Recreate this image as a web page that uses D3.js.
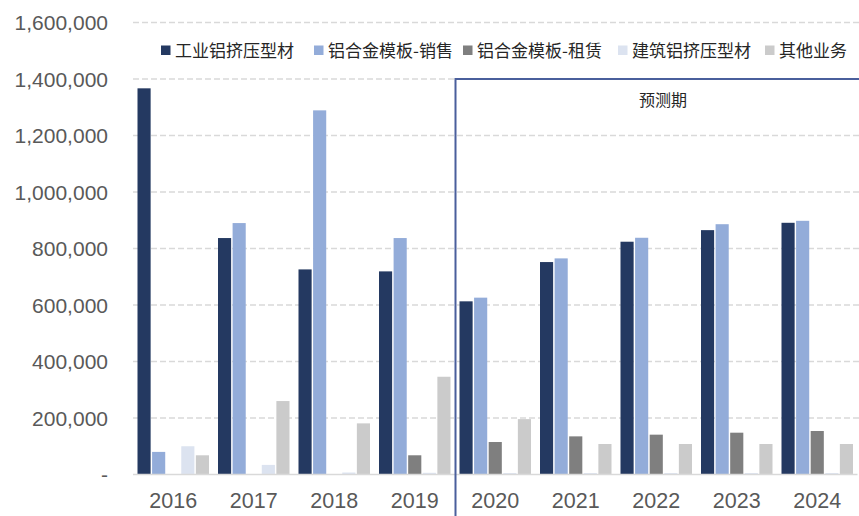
<!DOCTYPE html>
<html><head><meta charset="utf-8">
<script src="https://cdn.jsdelivr.net/npm/d3@7"></script>
<style>body{margin:0;background:#fff}svg{display:block}</style>
</head><body><svg id="c" width="859" height="516"></svg>
<script>
const years = ["2016","2017","2018","2019","2020","2021","2022","2023","2024"];
const seriesNames = ["工业铝挤压型材","铝合金模板-销售","铝合金模板-租赁","建筑铝挤压型材","其他业务"];
const industrial = [1367000, 837000, 726000, 719000, 613000, 752000, 824000, 865000, 891000];
const formworkSale = [80000, 890000, 1289000, 837000, 626000, 765000, 838000, 886000, 898000];
const formworkRent = [0, 0, 0, 68000, 115000, 135000, 141000, 148000, 154000];
const building = [100000, 34000, 7000, 6000, 5000, 5000, 5000, 5000, 5000];
const other = [68000, 260000, 181000, 346000, 196000, 108000, 108000, 108000, 108000];
const yTicks = [0, 200000, 400000, 600000, 800000, 1000000, 1200000, 1400000, 1600000];
const forecastStart = "2020";
const forecastLabel = "预测期";

(function () {
const colors = ["#243961", "#93acd9", "#7f7f7f", "#dce3f0", "#cbcbcb"];
const allSeries = [industrial, formworkSale, formworkRent, building, other];

const svg = d3.select("#c");
const pLeft = 133, pRight = 857.5, pTop = 22.5, pBottom = 474.5;
const font = "'Liberation Sans', Arial, sans-serif";

const y = d3.scaleLinear().domain([0, 1600000]).range([pBottom, pTop]);
const x0 = d3.scaleBand().domain(years).range([pLeft, pRight]).padding(0);
const x1 = d3.scaleBand().domain(d3.range(seriesNames.length)).range([4.5, x0.bandwidth() - 4.5]).paddingInner(0.1);

// grid
svg.append("g").selectAll("line").data(yTicks.filter(d => d > 0)).join("line")
  .attr("x1", pLeft).attr("x2", 859)
  .attr("y1", d => y(d)).attr("y2", d => y(d))
  .attr("stroke", "#d9d9d9").attr("stroke-width", 1.5).attr("stroke-dasharray", "6,3");

// y labels
svg.append("g").selectAll("text").data(yTicks).join("text")
  .attr("x", 108).attr("y", d => y(d))
  .attr("dy", "0.36em")
  .attr("text-anchor", "end")
  .attr("font-family", font).attr("font-size", 21).attr("fill", "#595959")
  .text(d => d === 0 ? "-" : d3.format(",")(d));

// bars
const groups = svg.append("g").selectAll("g").data(years).join("g")
  .attr("transform", d => `translate(${x0(d)},0)`);
groups.selectAll("rect").data((d, i) => allSeries.map((s, k) => ({k, v: s[i]}))).join("rect")
  .attr("x", d => x1(d.k)).attr("width", x1.bandwidth())
  .attr("y", d => y(d.v)).attr("height", d => pBottom - y(d.v))
  .attr("fill", d => colors[d.k]);

// x axis line
svg.append("line").attr("x1", pLeft).attr("x2", pRight).attr("y1", pBottom).attr("y2", pBottom)
  .attr("stroke", "#d9d9d9").attr("stroke-width", 1.5);

// x labels
svg.append("g").selectAll("text").data(years).join("text")
  .attr("x", d => x0(d) + x0.bandwidth() / 2).attr("y", 508)
  .attr("text-anchor", "middle")
  .attr("font-family", font).attr("font-size", 21.5).attr("fill", "#595959")
  .text(d => d);

// forecast box
const fx = x0(forecastStart) + 0.5;
svg.append("rect").attr("x", fx).attr("y", y(1400000))
  .attr("width", 870 - fx).attr("height", 600)
  .attr("fill", "none").attr("stroke", "#4a5f9c").attr("stroke-width", 2);
svg.append("text").attr("x", 663).attr("y", 106).attr("text-anchor", "middle")
  .attr("font-family", "'Noto Sans CJK SC', sans-serif").attr("font-size", 16).attr("fill", "#262626")
  .text(forecastLabel);

// legend
const legendX = [161, 314, 463, 618, 765];
const lg = svg.append("g").selectAll("g").data(seriesNames).join("g")
  .attr("transform", (d, i) => `translate(${legendX[i]},0)`);
lg.append("rect").attr("x", 0).attr("y", 45.5).attr("width", 9.5).attr("height", 9.5)
  .attr("fill", (d, i) => colors[i]);
lg.append("text").attr("x", 14).attr("y", 56.5)
  .attr("font-family", "'Noto Sans CJK SC', sans-serif").attr("font-size", 17).attr("fill", "#262626")
  .text(d => d);
})();
</script></body></html>
